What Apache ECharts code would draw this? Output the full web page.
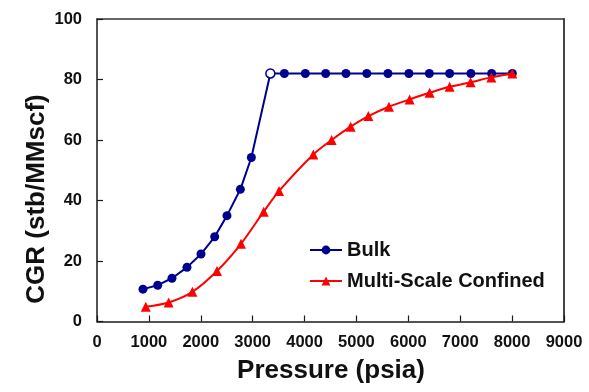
<!DOCTYPE html>
<html>
<head>
<meta charset="utf-8">
<script src="https://cdn.jsdelivr.net/npm/echarts@6/dist/echarts.min.js"></script>
<style>
html,body{margin:0;padding:0;background:#fff;}
#chart{width:589px;height:392px;}
</style>
</head>
<body>
<div id="chart"></div>
<script>
// Data
const bulkPressure = [886, 1170, 1445, 1734, 2004, 2268, 2505, 2763, 2975, 3341, 3611, 4015, 4407, 4798, 5200, 5607, 6011, 6405, 6796, 7206, 7605, 8004];
const bulkCGR = [10.7, 12.0, 14.3, 17.9, 22.3, 28.0, 35.0, 43.7, 54.2, 82.0, 82.0, 82.0, 82.0, 82.0, 82.0, 82.0, 82.0, 82.0, 82.0, 82.0, 82.0, 82.0];
const bulkDewIndex = 9; // open-circle point (dew point)
const confPressure = [940, 1381, 1838, 2312, 2775, 3212, 3507, 4169, 4522, 4888, 5230, 5626, 6025, 6410, 6796, 7200, 7599, 8004];
const confCGR = [4.9, 6.3, 9.8, 16.7, 25.7, 36.3, 43.1, 55.2, 60.0, 64.4, 67.9, 71.0, 73.4, 75.6, 77.6, 79.1, 80.7, 82.0];
const xTicks = [0, 1000, 2000, 3000, 4000, 5000, 6000, 7000, 8000, 9000];
const yTicks = [0, 20, 40, 60, 80, 100];
const seriesNames = ['Bulk', 'Multi-Scale Confined'];
const xTitle = 'Pressure (psia)';
const yTitle = 'CGR (stb/MMscf)';

const BLUE = '#00008f';
const RED = '#ff0000';
const FONT = "'Liberation Sans', Arial, sans-serif";
const AX = '#1a1a1a';

const bulkData = bulkPressure.map((p, i) => {
  if (i === bulkDewIndex) {
    return {value: [p, bulkCGR[i]], itemStyle: {color: '#ffffff', borderColor: BLUE, borderWidth: 1.5}};
  }
  return [p, bulkCGR[i]];
});
const confData = confPressure.map((p, i) => [p, confCGR[i]]);

const xMin = xTicks[0], xMax = xTicks[xTicks.length - 1];
const yMin = yTicks[0], yMax = yTicks[yTicks.length - 1];

const chart = echarts.init(document.getElementById('chart'), null, {renderer: 'canvas'});
chart.setOption({
  backgroundColor: '#ffffff',
  animation: false,
  grid: {left: 97, right: 25, top: 19, bottom: 70.5},
  xAxis: [{
    type: 'value', min: xMin, max: xMax, interval: 1000, position: 'bottom',
    axisLine: {onZero: false, lineStyle: {color: AX, width: 1.5}},
    axisTick: {inside: true, length: 6, lineStyle: {color: AX, width: 1.2}},
    splitLine: {show: false},
    axisLabel: {color: '#111', fontFamily: FONT, fontWeight: 'bold', fontSize: 16.5, margin: 12, formatter: v => String(v)}
  }, {
    type: 'value', min: xMin, max: xMax, interval: 1000, position: 'top',
    axisLine: {onZero: false, lineStyle: {color: '#333', width: 1.5}},
    axisTick: {show: false}, axisLabel: {show: false}, splitLine: {show: false}
  }],
  yAxis: [{
    type: 'value', min: yMin, max: yMax, interval: 20, position: 'left',
    axisLine: {show: true, onZero: false, lineStyle: {color: AX, width: 1.5}},
    axisTick: {show: true, inside: true, length: 6, lineStyle: {color: AX, width: 1.2}},
    splitLine: {show: false},
    axisLabel: {color: '#111', fontFamily: FONT, fontWeight: 'bold', fontSize: 16.5, margin: 15}
  }, {
    type: 'value', min: yMin, max: yMax, interval: 20, position: 'right',
    axisLine: {show: true, onZero: false, lineStyle: {color: '#444', width: 2}},
    axisTick: {show: false}, axisLabel: {show: false}, splitLine: {show: false}
  }],
  legend: {
    orient: 'vertical', left: 304, top: 235, itemGap: 11, itemWidth: 32, itemHeight: 11,
    textStyle: {fontFamily: FONT, fontWeight: 'bold', fontSize: 20, color: '#111'},
    data: seriesNames
  },
  graphic: [
    {type: 'text', x: 331, y: 371, style: {text: xTitle, font: 'bold 26px ' + FONT, fill: '#111', align: 'center', verticalAlign: 'middle'}},
    {type: 'text', x: 37, y: 199, rotation: Math.PI / 2, style: {text: yTitle, font: 'bold 26px ' + FONT, fill: '#111', align: 'center', verticalAlign: 'middle'}}
  ],
  series: [
    {
      name: seriesNames[0], type: 'line', data: bulkData,
      symbol: 'circle', symbolSize: 9,
      lineStyle: {color: BLUE, width: 2}, itemStyle: {color: BLUE}, z: 3
    },
    {
      name: seriesNames[1], type: 'line', data: confData,
      symbol: 'triangle', symbolSize: 10, smooth: 0.3,
      lineStyle: {color: RED, width: 2}, itemStyle: {color: RED}, z: 4
    }
  ]
});
</script>
</body>
</html>
